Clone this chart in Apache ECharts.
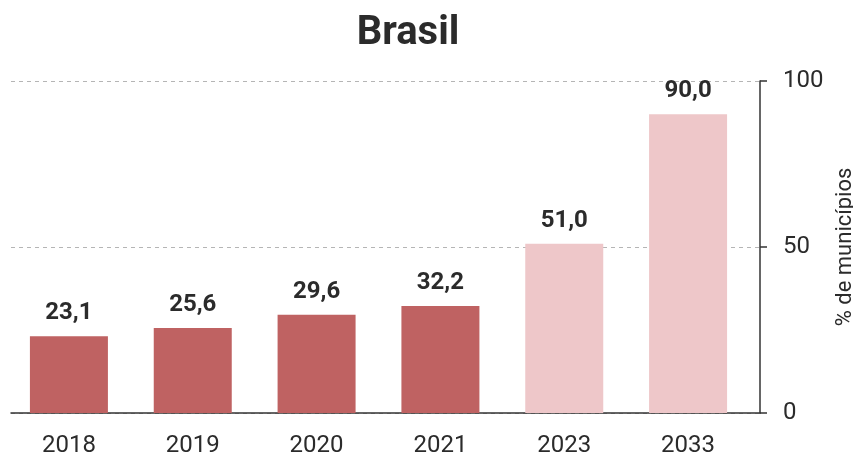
<!DOCTYPE html>
<html>
<head>
<meta charset="utf-8">
<script src="https://cdn.jsdelivr.net/npm/echarts@6/dist/echarts.min.js"></script>
<style>
html,body{margin:0;padding:0;background:#ffffff;}
#chart{width:853px;height:454px;}
</style>
</head>
<body>
<div id="chart"></div>
<script>
var title = 'Brasil';
var categories = ['2018', '2019', '2020', '2021', '2023', '2033'];
var values = [23.1, 25.6, 29.6, 32.2, 51.0, 90.0];
var kinds = ['real', 'real', 'real', 'real', 'meta', 'meta'];
var yTicks = [0, 50, 100];
var yName = '% de municípios';

var colorMap = { real: '#bf6262', meta: '#eec7c9' };

var chart = echarts.init(document.getElementById('chart'), null, { renderer: 'canvas' });
var option = {
  backgroundColor: '#ffffff',
  animation: false,
  title: {
    text: title,
    left: 403,
    textAlign: 'center',
    top: 9,
    textStyle: { fontFamily: 'Roboto', fontWeight: 'bold', fontSize: 40, color: '#2b2b2b' }
  },
  grid: [
    { left: 7, right: 103, top: 81, bottom: 41, outerBoundsMode: 'none', containLabel: false },
    { left: 11, right: 93, top: 81, bottom: 41, outerBoundsMode: 'none', containLabel: false }
  ],
  xAxis: [
    {
      type: 'category', gridIndex: 0, data: categories,
      axisLine: { show: false }, axisTick: { show: false },
      axisLabel: { margin: 21, fontFamily: 'Roboto', fontSize: 24, color: '#2b2b2b' }
    },
    {
      type: 'category', gridIndex: 1, data: categories,
      axisLine: { show: true, lineStyle: { color: '#333', width: 1.5 } },
      axisTick: { show: false }, axisLabel: { show: false }
    }
  ],
  yAxis: [
    { type: 'value', gridIndex: 0, min: 0, max: 100, show: false },
    {
      type: 'value', gridIndex: 1, position: 'right', min: yTicks[0], max: yTicks[yTicks.length - 1],
      interval: yTicks[1] - yTicks[0],
      axisLine: { show: true, lineStyle: { color: '#333', width: 1.5 } },
      axisTick: { show: true, length: 7, lineStyle: { color: '#333', width: 1.5 } },
      axisLabel: { margin: 23, fontFamily: 'Roboto', fontSize: 24, color: '#2b2b2b' },
      splitLine: { show: true, lineStyle: { color: '#b5b5b5', type: [4, 4], width: 1 } },
      name: yName, nameLocation: 'middle', nameRotate: 90, nameGap: 72,
      nameTextStyle: { fontFamily: 'Roboto', fontSize: 22, color: '#2b2b2b' }
    }
  ],
  series: [
    {
      type: 'bar', xAxisIndex: 0, yAxisIndex: 0,
      barWidth: 78,
      data: values.map(function (v, i) {
        return { value: v, itemStyle: { color: colorMap[kinds[i]] } };
      }),
      label: {
        show: true, position: 'top', distance: 11,
        fontFamily: 'Roboto', fontWeight: 'bold', fontSize: 24, color: '#2b2b2b',
        formatter: function (p) { return p.value.toFixed(1).replace('.', ','); }
      },
      z: 1
    },
    {
      type: 'bar', xAxisIndex: 1, yAxisIndex: 1, data: [], silent: true
    }
  ]
};
chart.setOption(option);
</script>
</body>
</html>
